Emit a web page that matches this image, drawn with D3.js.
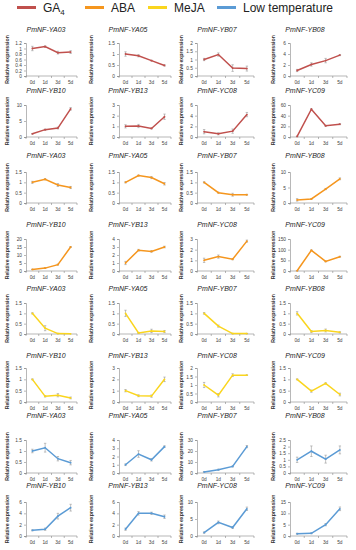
<!DOCTYPE html>
<html>
<head>
<meta charset="utf-8">
<script src="https://cdn.jsdelivr.net/npm/d3@7"></script>
<style>
  body { margin: 0; background: #fff; }
  svg { display: block; font-family: "Liberation Sans", Arial, sans-serif; }
</style>
</head>
<body>
<svg id="chart" width="356" height="550"></svg>
<script>
// chart data
const genes = ["PmNF-YA03", "PmNF-YA05", "PmNF-YB07", "PmNF-YB08",
               "PmNF-YB10", "PmNF-YB13", "PmNF-YC08", "PmNF-YC09"];
const days = ["0d", "1d", "3d", "5d"];
const treatments = ["GA4", "ABA", "MeJA", "Low temperature"];
const colors = ["#c0504d", "#f5961e", "#fad51e", "#5b9bd5"];

// y axis [max, step] per gene, per treatment
const ga4Axis  = [[1.2, 0.2], [1.5, 0.5], [2, 0.5], [6, 2], [10, 5], [3, 1], [6, 2], [60, 20]];
const abaAxis  = [[1.5, 0.5], [1.5, 0.5], [1.5, 0.5], [10, 5], [20, 5], [4, 1], [3, 1], [150, 50]];
const mejaAxis = [[1.5, 0.5], [1.5, 0.5], [1.5, 0.5], [1.5, 0.5], [1.5, 0.5], [3, 1], [2, 0.5], [1.5, 0.5]];
const lowAxis  = [[1.5, 0.5], [4, 1], [30, 10], [2.5, 0.5], [6, 2], [6, 2], [10, 5], [15, 5]];

const ga4Values = [
  [1.0, 1.07, 0.85, 0.87], [1.0, 0.92, 0.7, 0.48], [1.0, 1.3, 0.48, 0.45], [1.0, 2.1, 2.8, 3.8],
  [1.0, 2.3, 2.8, 8.8], [1.0, 1.03, 0.8, 1.9], [1.0, 0.6, 1.1, 4.2], [1.0, 52, 21, 24]
];
const ga4Errors = [
  [0.08, 0.03, 0.05, 0.05], [0.1, 0.05, 0.02, 0.03], [0.07, 0.1, 0.2, 0.15], [0.2, 0.3, 0.4, 0.1],
  [0.1, 0.2, 0.3, 0.4], [0.15, 0.15, 0.05, 0.25], [0.4, 0.2, 0.4, 0.4], [0.3, 1, 1, 1]
];
const abaValues = [
  [1.0, 1.15, 0.87, 0.75], [1.0, 1.33, 1.23, 0.93], [1.0, 0.5, 0.4, 0.4], [1.0, 1.3, 4.5, 7.8],
  [1.0, 1.8, 4.0, 15], [1.0, 2.6, 2.45, 3.0], [1.0, 1.35, 1.1, 2.8], [1.0, 97, 45, 67]
];
const abaErrors = [
  [0.05, 0.03, 0.07, 0.05], [0.03, 0.02, 0.05, 0.06], [0.03, 0.02, 0.07, 0.02], [0.4, 0.1, 0.2, 0.3],
  [0.1, 0.2, 0.3, 0.3], [0.2, 0.1, 0.1, 0.1], [0.2, 0.15, 0.05, 0.1], [0.5, 2, 2, 2]
];
const mejaValues = [
  [1.0, 0.28, 0.02, 0.01], [1.0, 0.05, 0.15, 0.12], [1.0, 0.38, 0.02, 0.02], [1.0, 0.12, 0.17, 0.08],
  [1.0, 0.25, 0.3, 0.18], [1.0, 0.55, 0.52, 2.0], [1.0, 0.4, 1.58, 1.58], [1.0, 0.48, 0.82, 0.33]
];
const mejaErrors = [
  [0.03, 0.12, 0.01, 0.0], [0.15, 0.03, 0.08, 0.05], [0.04, 0.05, 0.01, 0.01], [0.08, 0.05, 0.07, 0.03],
  [0.02, 0.03, 0.07, 0.04], [0.1, 0.08, 0.1, 0.2], [0.15, 0.1, 0.08, 0.02], [0.02, 0.05, 0.03, 0.06]
];
const lowValues = [
  [1.0, 1.15, 0.65, 0.47], [1.0, 2.3, 1.6, 3.2], [1.0, 3.0, 6.0, 24], [1.0, 1.65, 1.05, 1.75],
  [1.0, 1.2, 3.5, 5.0], [1.2, 4.0, 4.0, 3.4], [1.0, 4.0, 2.5, 8.0], [1.0, 1.2, 5.0, 12]
];
const lowErrors = [
  [0.08, 0.2, 0.1, 0.1], [0.1, 0.4, 0.15, 0.1], [0.3, 0.5, 0.5, 1.0], [0.2, 0.4, 0.3, 0.3],
  [0.1, 0.2, 0.5, 0.6], [0.2, 0.3, 0.2, 0.3], [0.2, 0.4, 0.3, 0.5], [0.2, 0.2, 0.5, 0.8]
];

const groups = [
  { axis: ga4Axis, values: ga4Values, errors: ga4Errors },
  { axis: abaAxis, values: abaValues, errors: abaErrors },
  { axis: mejaAxis, values: mejaValues, errors: mejaErrors },
  { axis: lowAxis, values: lowValues, errors: lowErrors }
];

// layout
const rowTitleY  = [32, 93, 158, 227, 291, 358, 418, 488];
const rowTopY    = [43, 105, 172, 239, 303, 368, 440, 502];
const rowBottomY = [76, 137, 203, 271, 334, 402, 473, 536];
const colAxisX  = [26, 119, 197, 290];
const colWidth  = [51, 52, 57, 57];
const colTitleX = [46, 128, 217, 305];
const colLabelX = [9, 93, 183, 275];

const svg = d3.select("#chart");

// legend
const legendX = [17, 85, 148, 217];
const legend = svg.append("g");
treatments.forEach((t, i) => {
  legend.append("line")
    .attr("x1", legendX[i]).attr("x2", legendX[i] + 19)
    .attr("y1", 7.5).attr("y2", 7.5)
    .attr("stroke", colors[i]).attr("stroke-width", 3);
  const txt = legend.append("text")
    .attr("x", legendX[i] + 26).attr("y", 12)
    .attr("font-size", 12).attr("fill", "#222");
  if (t === "GA4") {
    txt.append("tspan").text("GA");
    txt.append("tspan").attr("font-size", 8).attr("dy", 3).text("4");
  } else {
    txt.text(t);
  }
});

function drawPanel(groupIndex, geneIndex) {
  const grp = groups[groupIndex];
  const row = groupIndex * 2 + Math.floor(geneIndex / 4);
  const col = geneIndex % 4;
  const color = colors[groupIndex];
  const [yMax, yStep] = grp.axis[geneIndex];
  const vals = grp.values[geneIndex];
  const errs = grp.errors[geneIndex];

  const x0 = colAxisX[col], w = colWidth[col];
  const top = rowTopY[row], bottom = rowBottomY[row];

  const x = d3.scaleBand().domain(days).range([x0, x0 + w]);
  const y = d3.scaleLinear().domain([0, yMax]).range([bottom, top]);
  const ticks = d3.range(0, yMax + yStep / 2, yStep).map(v => +v.toFixed(3));

  const g = svg.append("g");

  g.append("text")
    .attr("x", colTitleX[col]).attr("y", rowTitleY[row])
    .attr("text-anchor", "middle")
    .attr("font-size", 7).attr("font-style", "italic")
    .attr("fill", "#222")
    .text(genes[geneIndex]);

  g.append("text")
    .attr("transform", `translate(${colLabelX[col]},${(top + bottom) / 2}) rotate(-90)`)
    .attr("text-anchor", "middle")
    .attr("font-size", 5.2).attr("font-weight", "bold")
    .attr("fill", "#333")
    .text("Relative expression");

  // y axis
  const yAxis = g.append("g")
    .attr("transform", `translate(${x0},0)`)
    .call(d3.axisLeft(y).tickValues(ticks).tickSize(2).tickPadding(2)
      .tickFormat(d => String(d)));
  yAxis.selectAll("text").attr("font-size", 4.8).attr("fill", "#444");

  // x axis with ticks at category boundaries
  const xAxis = g.append("g")
    .attr("transform", `translate(0,${bottom})`)
    .call(d3.axisBottom(x).tickSize(0).tickPadding(5));
  xAxis.selectAll("text").attr("font-size", 4.8).attr("fill", "#444");
  xAxis.selectAll(".domain").remove();
  g.append("line")
    .attr("x1", x0).attr("x2", x0 + w).attr("y1", bottom).attr("y2", bottom);
  days.concat([null]).forEach((d, i) => {
    const xb = x0 + i * x.step();
    g.append("line")
      .attr("x1", xb).attr("x2", xb).attr("y1", bottom).attr("y2", bottom + 2);
  });
  g.selectAll("line, path.domain").attr("stroke", "#888").attr("stroke-width", 0.6);

  const pts = vals.map((v, i) => ({ x: x(days[i]) + x.bandwidth() / 2, v: v, e: errs[i] }));

  // error bars
  pts.forEach(p => {
    if (p.e <= 0) return;
    const ya = y(p.v + p.e), yb = y(Math.max(0, p.v - p.e));
    g.append("line").attr("x1", p.x).attr("x2", p.x).attr("y1", ya).attr("y2", yb);
    g.append("line").attr("x1", p.x - 1.2).attr("x2", p.x + 1.2).attr("y1", ya).attr("y2", ya);
    g.append("line").attr("x1", p.x - 1.2).attr("x2", p.x + 1.2).attr("y1", yb).attr("y2", yb);
  });
  g.selectAll("line").filter(function () { return !this.getAttribute("stroke"); })
    .attr("stroke", "#999").attr("stroke-width", 0.6);

  g.append("path")
    .datum(pts)
    .attr("fill", "none")
    .attr("stroke", color)
    .attr("stroke-width", 1.5)
    .attr("d", d3.line().x(p => p.x).y(p => y(p.v)));

  g.selectAll("circle.pt")
    .data(pts)
    .join("circle")
    .attr("class", "pt")
    .attr("cx", p => p.x).attr("cy", p => y(p.v))
    .attr("r", 0.9).attr("fill", color);
}

groups.forEach((grp, gi) => {
  genes.forEach((gene, k) => drawPanel(gi, k));
});
</script>
</body>
</html>
